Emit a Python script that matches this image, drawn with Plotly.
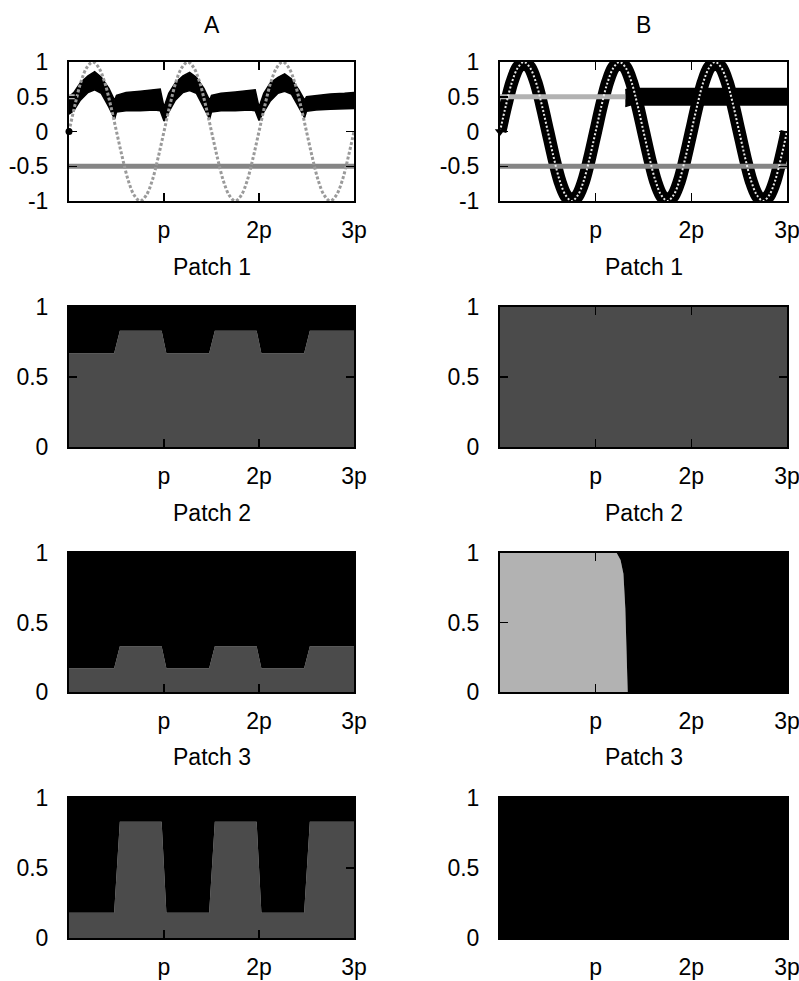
import plotly.graph_objects as go

FONT = "Liberation Sans, Arial, Helvetica, sans-serif"
DARK = "#4b4b4b"
LIGHT = "#b2b2b2"
MIDGRAY = "#858585"

# ---------------- data (x in units of pi) ----------------
x_ticks = [1, 2, 3]
x_ticktext = ["p", "2p", "3p"]
y_ticks_top = [-1, -0.5, 0, 0.5, 1]
y_ticktext_top = ["-1", "-0.5", "0", "0.5", "1"]
y_ticks_patch = [0, 0.5, 1]
y_ticktext_patch = ["0", "0.5", "1"]

col_titles = ["A", "B"]
patch_titles = ["Patch 1", "Patch 2", "Patch 3"]

# forcing signal (dotted curve)
sine_x = [k / 16 for k in range(49)]
sine_y = [0, .38, .71, .92, 1, .92, .71, .38, 0, -.38, -.71, -.92, -1, -.92, -.71, -.38,
          0, .38, .71, .92, 1, .92, .71, .38, 0, -.38, -.71, -.92, -1, -.92, -.71, -.38,
          0, .38, .71, .92, 1, .92, .71, .38, 0, -.38, -.71, -.92, -1, -.92, -.71, -.38,
          0]

# A top: black band envelope
a_band_x = [0.00, 0.05, 0.12, 0.20, 0.27, 0.34, 0.42, 0.48, 0.50, 0.60, 0.75, 0.90, 0.96, 1.00,
            1.05, 1.12, 1.20, 1.27, 1.34, 1.42, 1.48, 1.50, 1.60, 1.75, 1.90, 1.96, 2.00,
            2.05, 2.12, 2.20, 2.27, 2.34, 2.42, 2.48, 2.50, 2.60, 2.75, 2.90, 3.00]
a_band_hi = [0.50, 0.56, 0.70, 0.80, 0.86, 0.78, 0.62, 0.45, 0.52, 0.56, 0.58, 0.60, 0.61, 0.35,
             0.55, 0.70, 0.80, 0.85, 0.78, 0.62, 0.45, 0.52, 0.55, 0.57, 0.59, 0.60, 0.35,
             0.55, 0.70, 0.78, 0.83, 0.76, 0.60, 0.45, 0.50, 0.52, 0.54, 0.55, 0.56]
a_band_lo = [0.25, 0.30, 0.45, 0.56, 0.60, 0.55, 0.35, 0.18, 0.28, 0.30, 0.30, 0.31, 0.30, 0.15,
             0.28, 0.45, 0.56, 0.59, 0.55, 0.35, 0.18, 0.28, 0.30, 0.30, 0.31, 0.30, 0.16,
             0.28, 0.44, 0.55, 0.58, 0.54, 0.35, 0.20, 0.29, 0.31, 0.32, 0.33, 0.33]

a_light_x = [0.0, 0.06]
a_light_y = [0.5, 0.5]
low_line_x = [0.0, 3.0]
low_line_y = [-0.5, -0.5]

# B top
b_light_x = [0.0, 1.31]
b_light_y = [0.5, 0.5]
b_flat_x = [1.31, 1.36, 1.5, 2.0, 2.5, 3.0]
b_flat_hi = [0.60, 0.62, 0.62, 0.62, 0.62, 0.62]
b_flat_lo = [0.36, 0.38, 0.38, 0.38, 0.38, 0.38]

# Patches, column A: fraction of dark grey type (rest black)
pa_x = [0, 0.475, 0.535, 0.975, 1.025, 1.475, 1.535, 1.975, 2.025, 2.475, 2.535, 3.0]
pa1_dark = [0.67, 0.67, 0.83, 0.83, 0.67, 0.67, 0.83, 0.83, 0.67, 0.67, 0.83, 0.83]
pa2_dark = [0.17, 0.17, 0.33, 0.33, 0.17, 0.17, 0.33, 0.33, 0.17, 0.17, 0.33, 0.33]
pa3_dark = [0.18, 0.18, 0.83, 0.83, 0.18, 0.18, 0.83, 0.83, 0.18, 0.18, 0.83, 0.83]

# Patches, column B
pb_x = [0, 1.0, 1.22, 1.26, 1.29, 1.31, 1.325, 1.335, 2.0, 3.0]
pb1_dark = [1, 1, 1, 1, 1, 1, 1, 1, 1, 1]
pb2_light = [1, 1, 1.0, 0.95, 0.85, 0.6, 0.3, 0.0, 0, 0]
pb3_black = [1, 1, 1, 1, 1, 1, 1, 1, 1, 1]

# ---------------- layout geometry ----------------
W, H = 799, 981
col_px = [(69, 354), (500, 787)]
row_px = [(62, 201), (307, 447), (553, 692), (798, 938)]
title_y_px = [25, 267, 513, 757]

fig = go.Figure()


def ax(n):
    return ("x" if n == 1 else f"x{n}"), ("y" if n == 1 else f"y{n}")


def add(n, **kw):
    xa, ya = ax(n)
    fig.add_trace(go.Scatter(xaxis=xa, yaxis=ya, showlegend=False, hoverinfo="skip", **kw))


# ---- top row A (axis 1)
add(1, x=a_band_x, y=a_band_lo, mode="lines", line=dict(color="black", width=1.5))
add(1, x=a_band_x, y=a_band_hi, mode="lines", line=dict(color="black", width=1.5),
    fill="tonexty", fillcolor="black")
add(1, x=a_light_x, y=a_light_y, mode="lines", line=dict(color=LIGHT, width=5))
add(1, x=low_line_x, y=low_line_y, mode="lines", line=dict(color=MIDGRAY, width=5))
add(1, x=sine_x, y=sine_y, mode="lines", line=dict(color="#9a9a9a", width=3, dash="3px,2px", shape="spline"))
add(1, x=[0], y=[0], mode="markers", marker=dict(color="black", size=7, symbol="circle"), cliponaxis=False)

# ---- top row B (axis 2)
add(2, x=sine_x, y=sine_y, mode="lines", line=dict(color="black", width=13, shape="spline"))
add(2, x=b_flat_x, y=b_flat_lo, mode="lines", line=dict(color="black", width=1.5))
add(2, x=b_flat_x, y=b_flat_hi, mode="lines", line=dict(color="black", width=1.5),
    fill="tonexty", fillcolor="black")
add(2, x=b_light_x, y=b_light_y, mode="lines", line=dict(color=LIGHT, width=5))
add(2, x=low_line_x, y=low_line_y, mode="lines", line=dict(color=MIDGRAY, width=5))
add(2, x=sine_x, y=sine_y, mode="lines", line=dict(color="#e8e8e8", width=2, dash="2px,2px", shape="spline"))
add(2, x=[0], y=[0], mode="markers", marker=dict(color="black", size=9, symbol="triangle-down"), cliponaxis=False)


# ---- patches
def stack(n, x, series):
    for vals, color in series:
        add(n, x=x, y=vals, mode="lines", line=dict(width=0, color=color),
            stackgroup=f"s{n}", fillcolor=color)


for n, dark in [(3, pa1_dark), (5, pa2_dark), (7, pa3_dark)]:
    stack(n, pa_x, [(dark, DARK), ([1 - v for v in dark], "black")])

stack(4, pb_x, [(pb1_dark, DARK)])
stack(6, pb_x, [(pb2_light, LIGHT), ([1 - v for v in pb2_light], "black")])
stack(8, pb_x, [(pb3_black, "black")])

# ---------------- axes ----------------
tickfont = dict(family=FONT, size=23, color="black")
layout = dict(width=W, height=H, margin=dict(l=0, r=0, t=0, b=0, autoexpand=False),
              template="none",
              paper_bgcolor="white", plot_bgcolor="white", showlegend=False)
for r in range(4):
    for c in range(2):
        n = r * 2 + c + 1
        x0, x1 = col_px[c]
        y0, y1 = row_px[r]
        xd = [x0 / W, x1 / W]
        yd = [1 - y1 / H, 1 - y0 / H]
        xa, ya = ax(n)
        xkey = "xaxis" if n == 1 else f"xaxis{n}"
        ykey = "yaxis" if n == 1 else f"yaxis{n}"
        layout[xkey] = dict(domain=xd, anchor=ya, range=[0, 3], tickvals=x_ticks, ticktext=x_ticktext,
                            ticks="inside", ticklen=8, tickwidth=1.5, tickcolor="black",
                            showline=True, linecolor="black", linewidth=2, mirror="ticks",
                            showgrid=False, zeroline=False, tickfont=tickfont, ticklabelstandoff=7,
                            ticklabeloverflow="allow",
                            automargin=False, fixedrange=True)
        if r == 0:
            yr, yt, ytt = [-1, 1], y_ticks_top, y_ticktext_top
        else:
            yr, yt, ytt = [0, 1], y_ticks_patch, y_ticktext_patch
        layout[ykey] = dict(domain=yd, anchor=xa, range=yr, tickvals=yt, ticktext=ytt,
                            ticks="inside", ticklen=8, tickwidth=1.5, tickcolor="black",
                            showline=True, linecolor="black", linewidth=2, mirror="ticks",
                            showgrid=False, zeroline=False, tickfont=tickfont, ticklabelstandoff=14,
                            ticklabeloverflow="allow",
                            automargin=False, fixedrange=True)

annotations = []
for r in range(4):
    for c in range(2):
        text = col_titles[c] if r == 0 else patch_titles[r - 1]
        x0, x1 = col_px[c]
        annotations.append(dict(text=text, x=(x0 + x1) / 2 / W, y=1 - title_y_px[r] / H,
                                xref="paper", yref="paper", showarrow=False,
                                xanchor="center", yanchor="middle",
                                font=dict(family=FONT, size=23, color="black")))
layout["annotations"] = annotations
fig.update_layout(**layout)

fig.write_html(
    "out.html",
    config={"displayModeBar": False, "staticPlot": True},
    post_script="document.body.style.margin='0px';document.documentElement.style.overflow='hidden';",
)
